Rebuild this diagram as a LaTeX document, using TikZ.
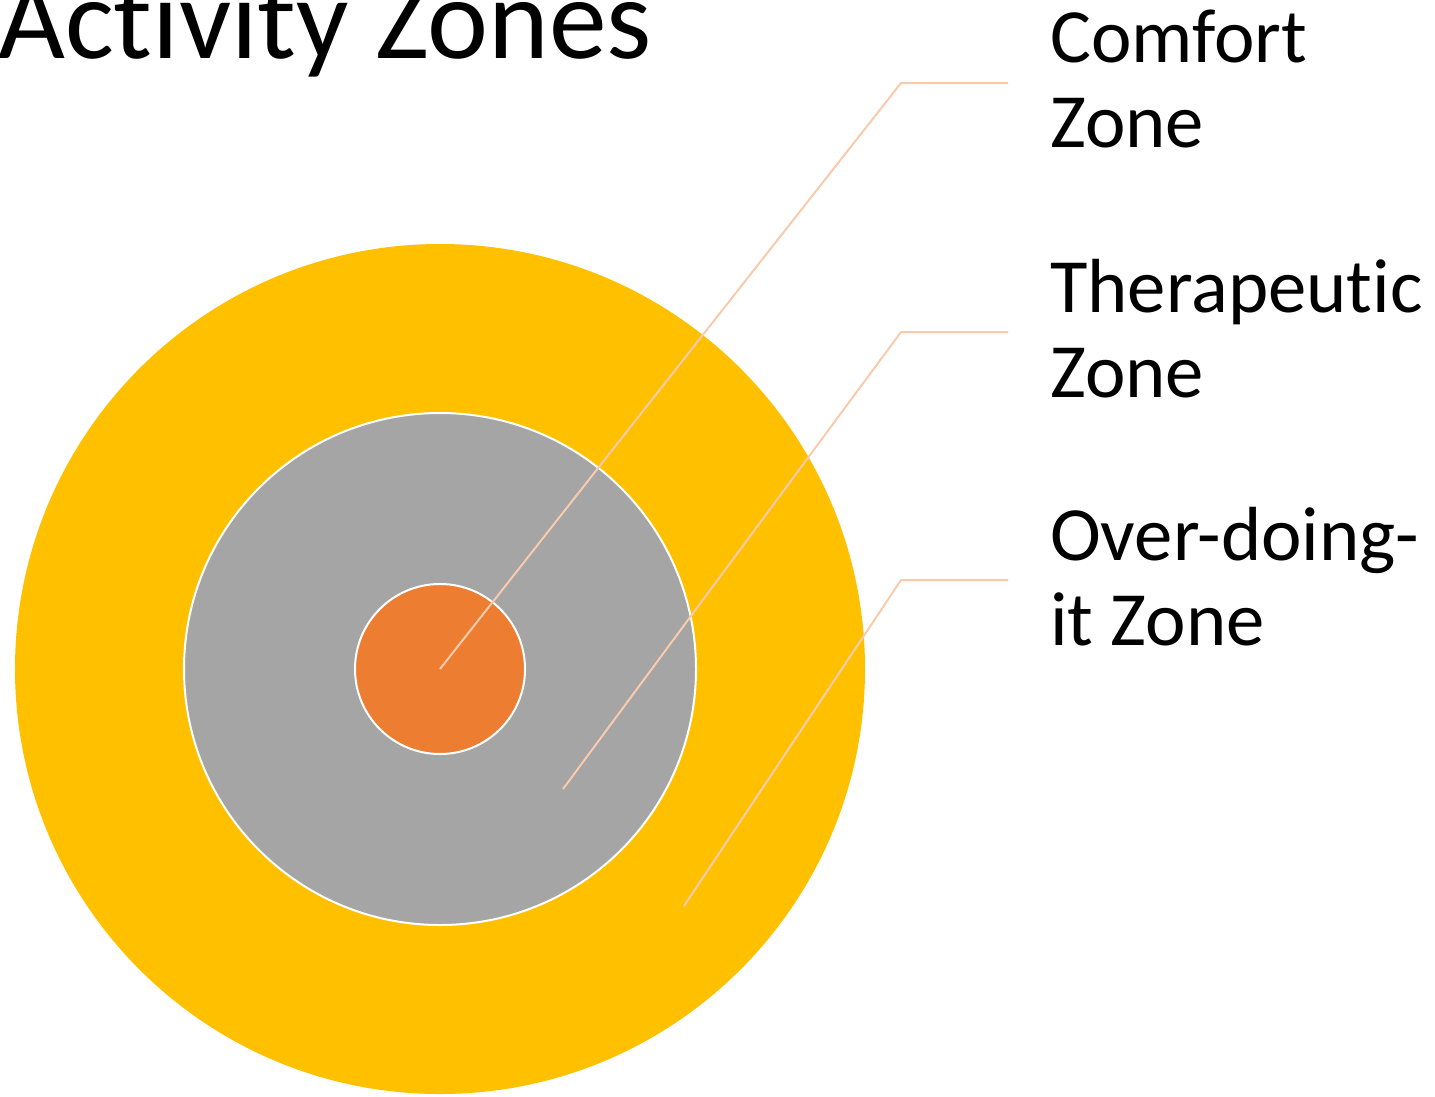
\documentclass[tikz,border=0pt]{standalone}
\usepackage{fontspec}
\setmainfont[Ligatures=NoCommon]{Carlito}
\definecolor{overzone}{HTML}{FFC000}
\definecolor{therzone}{HTML}{A5A5A5}
\definecolor{comfzone}{HTML}{ED7D31}
\definecolor{leadercol}{HTML}{F8CBAD}
\begin{document}
\begin{tikzpicture}[x=1bp,y=-1bp,
  zone/.style={circle,draw=white,line width=2bp,inner sep=0pt,outer sep=0pt},
  leader/.style={draw=leadercol,line width=2bp},
  zonelabel/.style={anchor=base west,inner sep=0pt,align=left,
    font=\fontsize{77}{85}\selectfont},
  heading/.style={anchor=base west,inner sep=0pt,
    font=\fontsize{116}{130}\selectfont}]
\useasboundingbox (0,0) rectangle (1435,1096);

% title, running off the top edge of the page
\node[heading] (title) at (-2,58) {Activity Zones};

% concentric zones
\node[zone,fill=overzone,draw=none,minimum size=850bp] (outer) at (440,669) {};
\node[zone,fill=therzone,minimum size=512bp] (mid) at (440,669) {};
\node[zone,fill=comfzone,minimum size=170bp] (core) at (440,669) {};

% leader line anchors
\coordinate (p1) at (440,669);
\coordinate (k1) at (901,83);
\coordinate (e1) at (1008,83);
\coordinate (p2) at (563,789);
\coordinate (k2) at (901,332);
\coordinate (e2) at (1008,332);
\coordinate (p3) at (684,906);
\coordinate (k3) at (901,580);
\coordinate (e3) at (1008,580);

\draw[leader] (p1) -- (k1) -- (e1);
\draw[leader] (p2) -- (k2) -- (e2);
\draw[leader] (p3) -- (k3) -- (e3);

% labels (anchored on the baseline of the last line)
\node[zonelabel] (l1) at (1050,147) {Comfort\\Zone};
\node[zonelabel] (l2) at (1050,397) {Therapeutic\\Zone};
\node[zonelabel] (l3) at (1050,645) {Over-doing-\\it Zone};
\end{tikzpicture}
\end{document}
